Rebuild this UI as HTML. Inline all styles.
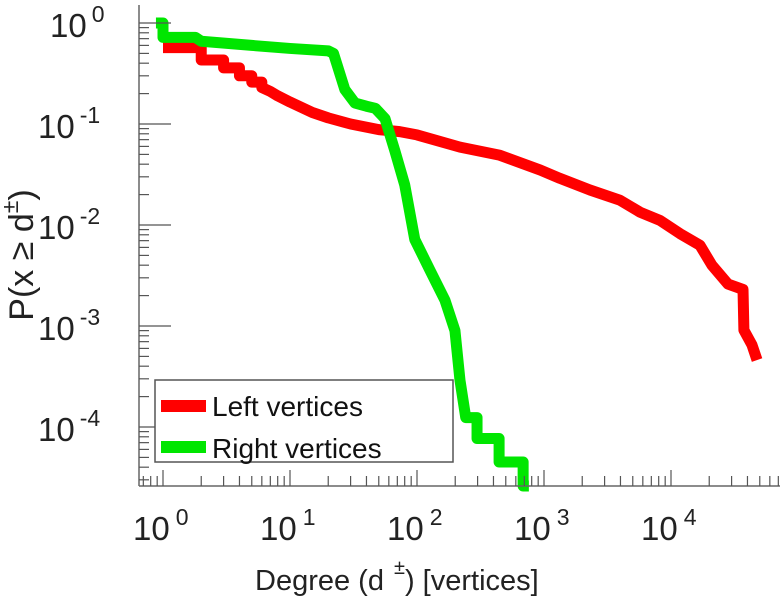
<!DOCTYPE html>
<html><head><meta charset="utf-8"><style>
body{margin:0;background:#fff}
svg{display:block;font-family:"Liberation Sans",sans-serif}
</style></head><body>
<svg id="chart" width="780" height="600">
<g id="plot"></g>
<g id="axes"></g>
<text x="255" y="590" font-size="29" fill="#222">Degree (d<tspan dx="10" dy="-16" font-size="20">±</tspan><tspan dy="16">) [vertices]</tspan></text>
<text transform="translate(33,255) rotate(-90)" font-size="34" fill="#222" text-anchor="middle">P(x ≥ d<tspan dy="-15" font-size="23">±</tspan><tspan dy="15">)</tspan></text>
<g>
<rect x="155" y="380" width="298" height="82" fill="#fff" stroke="#555" stroke-width="1.5"/>
<line x1="161" y1="406" x2="206" y2="406" stroke="#ff0000" stroke-width="12"/>
<text x="212" y="416" font-size="28" fill="#111">Left vertices</text>
<line x1="161" y1="447" x2="206" y2="447" stroke="#00e600" stroke-width="12"/>
<text x="212" y="458" font-size="28" fill="#111">Right vertices</text>
</g>
</svg>
<script>
const leftDeg=[1,2,2,3,3,4,4,5,5,6,6,7,8,10,15,20,30,50,73,100,218,450,935,1330,2300,3960,5700,8200,11800,16900,21000,28100,36900,37500,43400,47600];
const leftP=[0.57,0.57,0.43,0.43,0.36,0.36,0.30,0.30,0.26,0.26,0.23,0.21,0.19,0.165,0.13,0.115,0.1,0.088,0.084,0.078,0.059,0.049,0.035,0.029,0.0222,0.0176,0.0134,0.0111,0.0082,0.0063,0.004,0.0026,0.0023,0.00091,0.00065,0.00046];
const rightDeg=[0.88,1,1,1.8,2,5,10,20,22,27,32.5,40,47,56,67,80,96,126,166,199,218,242,297,297,443,443,685,685,760];
const rightP=[1.0,1.0,0.72,0.72,0.66,0.6,0.56,0.53,0.5,0.22,0.161,0.15,0.143,0.113,0.054,0.025,0.0072,0.0036,0.0018,0.0009,0.00029,0.000124,0.000124,0.000077,0.000077,0.000045,0.000045,0.000026,0.000026];
const xTicks=[0,1,2,3,4];
const yTicks=[0,-1,-2,-3,-4];
const X0=139,X1=780,Y0=5,Y1=486;
function sx(d){return 163+127*Math.log10(d);}
function sy(p){return 23-101*Math.log10(p);}
const NS="http://www.w3.org/2000/svg";
const plot=document.getElementById('plot'),axes=document.getElementById('axes');
function mk(tag,attrs,parent){const e=document.createElementNS(NS,tag);for(const k in attrs)e.setAttribute(k,attrs[k]);parent.appendChild(e);return e;}
function series(deg,p,color,name){
  const pts=deg.map((d,i)=>[Math.max(X0,Math.min(X1,sx(d))),Math.min(Y1,sy(p[i]))]);
  const e=mk('polyline',{points:pts.map(q=>q.join(',')).join(' '),fill:'none',stroke:color,'stroke-width':11,'stroke-linejoin':'round'},plot);
  
  
}
series(leftDeg,leftP,'#ff0000','left-vertices-line');
series(rightDeg,rightP,'#00e600','right-vertices-line');
let a=mk('line',{x1:X0,y1:Y0,x2:X0,y2:Y1,stroke:'#666','stroke-width':1.5},axes);


a=mk('line',{x1:X0,y1:Y1,x2:X1,y2:Y1,stroke:'#666','stroke-width':1.5},axes);


for(let e=-1;e<=5;e++)for(let m=1;m<10;m++){
  const x=sx(m*Math.pow(10,e));if(x<X0||x>X1)continue;
  mk('line',{x1:x,y1:Y1,x2:x,y2:Y1-(m==1?16:10),stroke:'#555','stroke-width':1.2},axes);
}
for(let e=-5;e<=0;e++)for(let m=1;m<10;m++){
  const y=sy(m*Math.pow(10,e));if(y<Y0||y>Y1)continue;
  mk('line',{x1:X0,y1:y,x2:X0+(m==1?32:10),y2:y,stroke:'#555','stroke-width':1.2},axes);
}
xTicks.forEach(e=>{
  const t=mk('text',{x:sx(Math.pow(10,e))-30,y:540,'font-size':33,fill:'#222'},axes);
  
  
  t.textContent='10';
  const s=mk('tspan',{dx:6,dy:-15,'font-size':23},t);s.textContent=String(e);
});
yTicks.forEach(e=>{
  const t=mk('text',{x:e<0?38:50,y:sy(Math.pow(10,e))+14,'font-size':33,fill:'#222'},axes);
  
  
  t.textContent='10';
  const s=mk('tspan',{dx:5,dy:-15,'font-size':23},t);s.textContent=String(e);
});
</script>
</body></html>
